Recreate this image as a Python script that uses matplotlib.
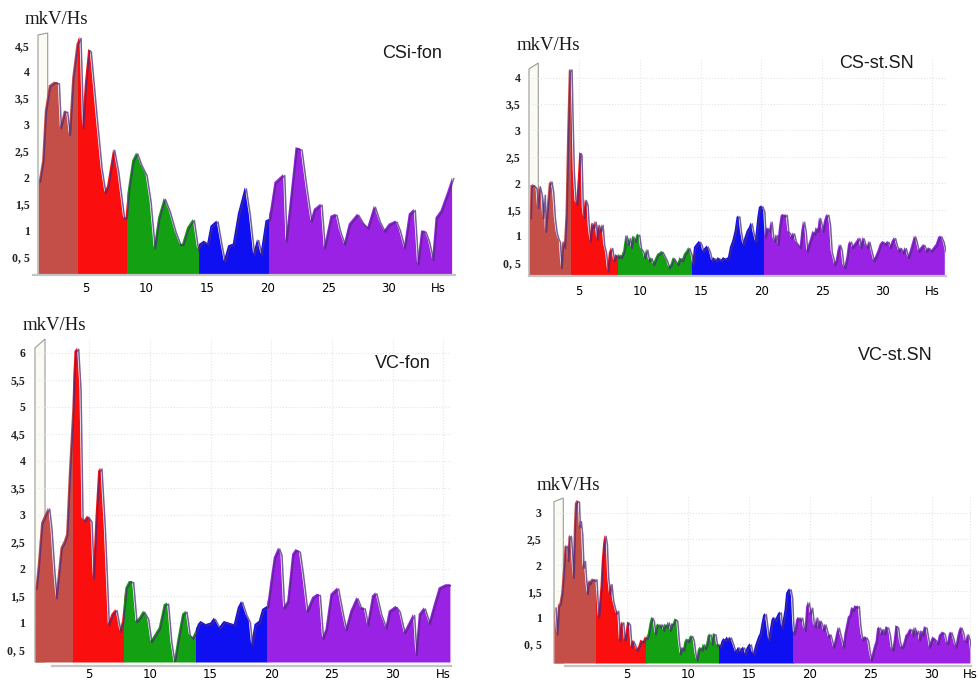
import numpy as np
import matplotlib
matplotlib.use("Agg")
import matplotlib.pyplot as plt
from matplotlib.patches import Rectangle, Polygon
from matplotlib.transforms import ScaledTranslation

# ---------------- data (Hz, mkV/Hs) ----------------
cs_fon_hz = [1.07, 1.34, 1.56, 1.89, 2.3, 2.63, 2.8, 3.13, 3.32, 3.54, 3.82, 4.17, 4.42, 4.64, 4.86,
             5.14, 5.27, 5.74, 6.16, 6.48, 6.7, 7.2, 7.53, 8.02, 8.22, 8.44, 8.77, 9.1, 9.45, 9.87,
             10.2, 10.55, 10.91, 11.38, 11.79, 12.26, 12.67, 12.89, 13.3, 13.77, 14.13, 14.32, 14.68,
             14.95, 15.23, 15.73, 16.06, 16.33, 16.69, 17.07, 17.49, 18.06, 18.39, 18.75, 19.08,
             19.36, 19.77, 20.04, 20.51, 21.23, 21.42, 21.78, 22.25, 22.66, 23.08, 23.48, 23.76,
             24.31, 24.58, 25.13, 25.54, 25.82, 26.23, 26.64, 27.33, 27.74, 28.16, 28.71, 29.12,
             29.53, 29.94, 30.49, 30.77, 31.18, 31.59, 32.0, 32.28, 32.61, 32.89, 33.19, 33.52,
             33.8, 34.21, 34.76, 35.17]
cs_fon_val = [1.95, 2.33, 3.27, 3.75, 3.82, 3.81, 2.96, 3.27, 3.27, 2.83, 3.9, 4.54, 4.67, 2.96, 3.78,
              4.44, 4.41, 3.21, 2.2, 1.73, 1.85, 2.55, 2.14, 1.25, 1.25, 1.82, 2.33, 2.48, 2.26, 2.07,
              1.57, 0.68, 1.25, 1.62, 1.38, 1.0, 0.75, 0.75, 1.06, 1.22, 0.65, 0.75, 0.81,
              0.75, 1.09, 1.19, 0.75, 0.43, 0.72, 0.75, 1.32, 1.82, 1.32, 0.56, 0.84,
              0.56, 1.19, 1.22, 1.92, 2.07, 0.81, 1.57, 2.58, 2.55, 1.82, 1.19, 1.41,
              1.51, 0.68, 1.28, 1.32, 1.03, 0.75, 1.13, 1.32, 1.16, 1.06, 1.47, 1.19,
              1.0, 1.13, 1.19, 1.03, 0.68, 1.32, 1.41, 0.37, 1.0, 1.0, 0.81, 0.46,
              1.25, 1.38, 1.73, 2.01]

cs_st_hz = [0.88, 0.93, 1.15, 1.35, 1.48, 1.62, 1.76, 1.9, 2.03, 2.12, 2.25, 2.44, 2.58, 2.72, 2.86,
            3.0, 3.13, 3.27, 3.41, 3.54, 3.68, 3.82, 3.96, 4.09, 4.23, 4.31,
            4.42, 4.56, 4.7, 4.84, 4.95, 5.05, 5.16, 5.27, 5.41, 5.55, 5.66, 5.8, 5.93, 6.07, 6.21,
            6.35, 6.48, 6.65, 6.79, 6.92, 7.06, 7.25, 7.39, 7.58, 7.75, 7.94, 8.13, 8.21,
            8.35, 8.57, 8.76, 8.9, 9.04, 9.18, 9.31, 9.51, 9.67, 9.81, 9.95, 10.14, 10.27, 10.47,
            10.63, 10.82, 11.02, 11.18, 11.37, 11.57, 11.73, 11.92, 12.12, 12.28, 12.47, 12.66,
            12.83, 13.02, 13.21, 13.38, 13.57, 13.76, 13.93, 14.12, 14.26,
            14.4, 14.59, 14.81, 14.95, 15.08, 15.22, 15.44, 15.63, 15.82, 15.99, 16.18, 16.37,
            16.59, 16.79, 17.01, 17.2, 17.36, 17.55, 17.75, 17.91, 18.05, 18.19, 18.38, 18.57,
            18.74, 18.93, 19.07, 19.2, 19.42, 19.62, 19.75, 19.95, 20.11, 20.22,
            20.38, 20.58, 20.71, 20.85, 20.99, 21.13, 21.26, 21.4, 21.54, 21.68, 21.81, 21.95,
            22.09, 22.23, 22.36, 22.55, 22.72, 22.91, 23.1, 23.24, 23.38, 23.52, 23.65, 23.82,
            24.01, 24.15, 24.29, 24.42, 24.56, 24.7, 24.84, 24.97, 25.11, 25.25, 25.38, 25.52,
            25.66, 25.8, 25.93, 26.07, 26.21, 26.35, 26.48, 26.62, 26.76, 26.95, 27.09, 27.25,
            27.39, 27.58, 27.77, 27.94, 28.08, 28.27, 28.46, 28.63, 28.76, 28.96, 29.15, 29.29,
            29.51, 29.7, 29.92, 30.11, 30.33, 30.52, 30.69, 30.88, 31.02, 31.21, 31.37, 31.57,
            31.76, 31.98, 32.17, 32.33, 32.53, 32.66, 32.85, 33.07, 33.29, 33.49, 33.68, 33.9,
            34.12, 34.32, 34.51, 34.68, 34.87, 35.06]
cs_st_val = [1.37, 1.97, 1.99, 1.93, 1.56, 1.97, 1.84, 1.37, 1.81, 1.11, 1.49, 2.0, 2.06, 1.87, 1.37,
             1.11, 0.99, 0.92, 0.42, 0.92, 0.8, 1.43, 3.01, 4.15, 4.18, 3.32,
             2.25, 1.68, 1.62, 2.12, 2.6, 2.57, 1.56, 1.37, 1.71, 1.62, 1.18, 0.92, 1.27, 1.18, 1.3,
             0.96, 1.24, 1.11, 1.24, 0.86, 0.73, 0.36, 0.7, 0.8, 0.55, 0.67, 0.61, 0.67,
             0.61, 0.73, 1.04, 0.86, 0.99, 0.8, 1.02, 0.92, 1.04, 1.05, 0.8, 0.73, 0.61, 0.77,
             0.55, 0.61, 0.48, 0.58, 0.67, 0.7, 0.73, 0.64, 0.55, 0.42, 0.48, 0.61,
             0.55, 0.48, 0.61, 0.55, 0.67, 0.73, 0.8, 0.67, 0.48,
             0.8, 0.86, 0.92, 0.86, 0.73, 0.77, 0.83, 0.73, 0.55, 0.61, 0.55, 0.61,
             0.55, 0.61, 0.58, 0.61, 0.8, 0.92, 1.11, 1.37, 1.4, 1.11, 0.86, 0.99,
             1.11, 1.18, 1.27, 1.11, 0.92, 1.37, 1.56, 1.59, 1.49, 0.99,
             1.18, 1.11, 1.3, 0.99, 0.92, 1.05, 0.86, 1.18, 1.4, 1.43, 1.4, 1.43,
             1.11, 1.08, 0.99, 1.08, 0.92, 0.86, 0.8, 1.11, 1.3, 1.11, 0.73, 0.86,
             0.99, 1.11, 1.05, 1.18, 1.11, 1.37, 1.24, 1.11, 1.3, 1.4, 1.43, 1.24,
             0.73, 0.61, 0.48, 0.55, 0.73, 0.86, 0.77, 0.48, 0.42, 0.61, 0.86, 0.92,
             0.8, 0.86, 0.92, 0.99, 0.8, 0.99, 0.86, 0.8, 0.92, 0.73, 0.55, 0.61,
             0.73, 0.86, 0.92, 0.86, 0.92, 0.8, 0.92, 0.99, 0.86, 0.73, 0.8, 0.7,
             0.8, 0.61, 0.73, 0.86, 1.02, 0.92, 0.73, 0.8, 0.86, 0.73, 0.8, 0.73,
             0.8, 0.86, 0.99, 1.02, 0.92, 0.73]

vc_fon_hz = [0.53, 0.72, 0.99, 1.3, 1.57, 1.76, 1.98, 2.17, 2.37, 2.59, 2.86, 3.05, 3.27, 3.55, 3.74,
             3.96, 4.15, 4.32, 4.51, 4.78, 5.06, 5.25, 5.47, 5.69, 5.88, 6.16, 6.49, 6.79, 7.12,
             7.45, 7.67, 7.94, 8.22, 8.49, 8.77, 9.04, 9.4, 9.73, 10.0, 10.28, 10.69, 11.1, 11.37,
             11.64, 11.92, 12.2, 12.61, 12.89, 13.16, 13.44, 13.71, 13.91, 14.12, 14.53, 14.95,
             15.22, 15.64, 16.05, 16.46, 16.87, 17.2, 17.48, 17.83, 18.11, 18.3, 18.58, 18.93,
             19.21, 19.62, 19.89, 20.17, 20.53, 20.72, 20.94, 21.27, 21.68, 21.95, 22.23, 22.5,
             22.86, 23.33, 23.69, 23.88, 24.15, 24.43, 24.84, 25.39, 25.8, 26.07, 26.48, 26.98,
             27.31, 27.58, 27.86, 28.27, 28.54, 28.96, 29.37, 29.65, 30.2, 30.47, 30.88, 31.29,
             31.65, 31.84, 32.12, 32.53, 32.94, 33.36, 33.77, 34.32, 34.73]
vc_fon_val = [1.66, 2.09, 2.86, 3.02, 3.14, 2.77, 2.03, 1.48, 1.91, 2.4, 2.52, 2.65, 3.76, 4.93, 6.04,
              6.1, 5.36, 2.96, 2.9, 2.99, 2.9, 1.85, 2.96, 3.82, 3.88, 2.77, 0.98, 1.17, 1.26,
              0.86, 1.04, 1.66, 1.78, 1.78, 1.04, 1.1, 1.23, 1.1, 0.67, 0.77, 0.92, 1.35, 1.38,
              0.67, 0.27, 0.67, 1.17, 1.23, 0.8, 0.73, 0.86, 0.98, 1.04, 0.98, 1.01,
              1.1, 0.92, 1.04, 1.01, 0.98, 1.29, 1.41, 1.17, 1.04, 0.61, 0.98, 1.04,
              1.26, 1.32, 1.78, 2.22, 2.4, 2.28, 1.29, 1.41, 2.28, 2.37, 2.34, 1.91,
              1.23, 1.48, 1.54, 1.54, 0.73, 0.89, 1.54, 1.66, 1.17, 0.89, 1.23, 1.48,
              1.29, 1.29, 0.98, 1.51, 1.57, 1.17, 0.92, 1.23, 1.32, 1.23, 0.83, 1.01,
              1.17, 0.43, 1.17, 1.29, 1.01, 1.35, 1.66, 1.72, 1.72]

vc_st_hz = [-0.96, -0.82, -0.68, -0.55, -0.41, -0.27, -0.14, 0.0, 0.08, 0.19, 0.3, 0.41, 0.52, 0.63,
            0.71, 0.85, 0.96, 1.04, 1.12, 1.23, 1.34, 1.45, 1.56, 1.67, 1.78, 1.89, 2.0, 2.13,
            2.27, 2.4, 2.49,
            2.6, 2.7, 2.81, 2.92, 3.03, 3.14, 3.25, 3.36, 3.5, 3.63, 3.77, 3.91, 4.04, 4.18, 4.32,
            4.45, 4.59, 4.73, 4.86, 5.0, 5.14, 5.27, 5.41, 5.55, 5.74, 5.9, 6.09, 6.28, 6.45, 6.56,
            6.69, 6.83, 6.97, 7.1, 7.24, 7.38, 7.51, 7.65, 7.79, 7.92, 8.06, 8.2, 8.33, 8.47, 8.61,
            8.74, 8.88, 9.02, 9.15, 9.29, 9.43, 9.56, 9.7, 9.84, 9.97, 10.11, 10.25, 10.38, 10.52,
            10.66, 10.79, 10.93, 11.07, 11.2, 11.34, 11.48, 11.61, 11.75, 11.89, 12.02, 12.16,
            12.3, 12.43, 12.6,
            12.73, 12.87, 13.01, 13.14, 13.28, 13.42, 13.55, 13.69, 13.83, 13.96, 14.1, 14.23,
            14.37, 14.51, 14.64, 14.78, 14.92, 15.05, 15.19, 15.33, 15.46, 15.6, 15.74, 15.87,
            16.01, 16.15, 16.28, 16.42, 16.56, 16.69, 16.83, 16.97, 17.1, 17.24, 17.38, 17.51,
            17.62, 17.76, 17.9, 18.03, 18.17, 18.31, 18.44, 18.52, 18.6,
            18.72, 18.85, 18.99, 19.13, 19.26, 19.4, 19.54, 19.67, 19.81, 19.95, 20.08, 20.22,
            20.36, 20.49, 20.63, 20.77, 20.9, 21.04, 21.17, 21.31, 21.45, 21.58, 21.72, 21.86,
            21.99, 22.13, 22.27, 22.4, 22.54, 22.68, 22.81, 22.95, 23.09, 23.22, 23.36, 23.5,
            23.63, 23.77, 23.91, 24.02, 24.13, 24.26, 24.4, 24.54, 24.67, 24.81, 24.95, 25.08,
            25.22, 25.36, 25.49, 25.63, 25.77, 25.9, 26.04, 26.17, 26.31, 26.45, 26.58, 26.72,
            26.86, 26.99, 27.13, 27.27, 27.4, 27.54, 27.68, 27.81, 27.95, 28.09, 28.22, 28.36,
            28.5, 28.63, 28.77, 28.91, 29.04, 29.18, 29.32, 29.45, 29.59, 29.73, 29.86, 30.0,
            30.14, 30.27, 30.41, 30.55, 30.68, 30.82, 30.96, 31.09, 31.23, 31.37, 31.5, 31.64,
            31.78, 31.91, 32.05, 32.19, 32.32, 32.46, 32.6, 32.74, 32.87, 33.01, 33.14]
vc_st_val = [1.22, 0.71, 1.25, 1.29, 1.48, 1.92, 2.37, 2.4, 2.11, 2.56, 2.59, 2.24, 1.79, 2.75,
             3.19, 3.25, 3.24, 2.75, 2.87, 2.62, 1.98, 2.11, 1.73, 1.48, 1.73, 1.67, 1.73, 1.76,
             1.73, 1.76, 1.35,
             1.03, 1.29, 1.6, 2.11, 2.43, 2.59, 2.43, 1.79, 1.48, 1.67, 1.35, 1.22, 1.1, 1.16, 0.59,
             0.9, 0.94, 0.59, 0.71, 0.94, 0.9, 0.46, 0.59, 0.52, 0.4, 0.46, 0.59, 0.56, 0.65, 0.62,
             0.71, 0.9, 1.03, 0.97, 0.71, 0.87, 0.9, 0.84, 0.9, 0.78, 0.9, 0.84, 0.94, 0.78, 0.9,
             0.9, 1.0, 0.97, 0.59, 0.33, 0.46, 0.4, 0.56, 0.62, 0.56, 0.65, 0.68, 0.59, 0.33,
             0.21, 0.4, 0.46, 0.4, 0.52, 0.43, 0.52, 0.68, 0.71, 0.52, 0.71, 0.71,
             0.49, 0.52, 0.46,
             0.56, 0.62, 0.59, 0.65, 0.59, 0.65, 0.56, 0.46, 0.37, 0.4, 0.46, 0.37,
             0.43, 0.46, 0.33, 0.43, 0.49, 0.52, 0.37, 0.33, 0.46, 0.56, 0.65, 0.71,
             0.9, 1.06, 1.1, 0.84, 0.59, 0.78, 0.97, 1.03, 0.97, 1.03, 1.1, 1.13,
             0.84, 0.97, 1.16, 1.48, 1.54, 1.57, 1.41, 0.97, 0.71,
             0.78, 0.97, 1.03, 0.97, 1.03, 0.84, 0.78, 1.22, 1.32, 1.1, 1.22, 0.9,
             0.84, 1.03, 0.84, 0.97, 0.9, 0.78, 0.9, 0.78, 0.65, 0.71, 0.59, 0.46,
             0.56, 0.71, 0.84, 0.71, 0.59, 0.46, 0.71, 0.87, 1.03, 1.06, 1.22, 1.16,
             1.25, 1.22, 1.25, 0.9, 0.71, 0.59, 0.65, 0.65, 0.59, 0.37, 0.21, 0.33,
             0.46, 0.56, 0.81, 0.84, 0.71, 0.81, 0.71, 0.84, 0.84, 0.71, 0.46, 0.4,
             0.59, 0.87, 0.84, 0.59, 0.46, 0.46, 0.56, 0.68, 0.71, 0.78, 0.81, 0.68,
             0.84, 0.71, 0.78, 0.59, 0.78, 0.68, 0.84, 0.84, 0.65, 0.46, 0.56, 0.65,
             0.62, 0.59, 0.52, 0.68, 0.71, 0.75, 0.71, 0.56, 0.52, 0.71, 0.75, 0.65,
             0.52, 0.46, 0.65, 0.78, 0.84, 0.75, 0.59, 0.56, 0.71, 0.59, 0.33]

# band edges (Hz, as read against each panel's tick labels)
cs_fon_edges = [1.0, 4.3, 8.4, 14.3, 20.1, 35.3]
cs_st_edges = [0.8, 4.31, 8.21, 14.26, 20.22, 35.2]
vc_fon_edges = [0.5, 3.69, 7.89, 13.77, 19.67, 34.8]
vc_st_edges = [-1.0, 2.49, 6.56, 12.6, 18.6, 33.2]
band_colors = ['#c44e48', '#fa0e0e', '#13a013', '#0f10f2', '#9a22e4']

x_ticks = [5, 10, 15, 20, 25, 30]
x_labels = ['5', '10', '15', '20', '25', '30']
y_labels_map = {0.5: '0, 5', 1: '1', 1.5: '1,5', 2: '2', 2.5: '2,5', 3: '3',
                3.5: '3,5', 4: '4', 4.5: '4,5', 5: '5', 5.5: '5,5', 6: '6'}

titles = ['CSi-fon', 'CS-st.SN', 'VC-fon', 'VC-st.SN']
unit_label = 'mkV/Hs'

W, H = 979, 682
fig = plt.figure(figsize=(W / 100, H / 100), dpi=100)
fig.patch.set_facecolor('white')


def fx(px):
    return px / W


def fy(py):
    return 1 - py / H


def add_panel(box, xlim, ylim, hz, val, edges, ymax_tick, title, title_xy, unit_xy,
              hs_x, xlab_pad, ylab_pad, wall, grid, spine_start, spine_out):
    L, R, T, B = box
    ax = fig.add_axes([fx(L), fy(B), fx(R - L), (B - T) / H])
    ax.set_facecolor('none')
    ax.set_xlim(*xlim)
    ax.set_ylim(*ylim)
    hz = np.asarray(hz)
    val = np.asarray(val)
    for i, c in enumerate(band_colors):
        poly = ax.fill_between(hz, ylim[0], val, color=c, lw=0, zorder=2)
        rect = Rectangle((edges[i], ylim[0]), edges[i + 1] - edges[i], ylim[1] - ylim[0],
                         transform=ax.transData, visible=False)
        ax.add_patch(rect)
        poly.set_clip_path(rect)
    off = ScaledTranslation(1.5 / 72, -1.5 / 72, fig.dpi_scale_trans)
    ax.plot(hz, val, color='#4b2a7a', lw=1.1, alpha=0.75, zorder=3,
            transform=ax.transData + off)
    # ticks
    yt = [v for v in sorted(y_labels_map) if v <= ymax_tick]
    ax.set_yticks(yt)
    ax.set_yticklabels([y_labels_map[v] for v in yt])
    ax.set_xticks(x_ticks + [hs_x])
    ax.set_xticklabels(x_labels + ['Hs'])
    ax.tick_params(axis='both', length=0, labelsize=8.5)
    ax.tick_params(axis='x', pad=xlab_pad)
    ax.tick_params(axis='y', pad=ylab_pad)
    for lab in ax.get_xticklabels() + ax.get_yticklabels():
        lab.set_fontfamily('Liberation Serif')
        lab.set_fontweight('bold')
        lab.set_color('#222222')
    for s in ['top', 'right', 'left']:
        ax.spines[s].set_visible(False)
    ax.spines['bottom'].set_color('#c4c4c4')
    ax.spines['bottom'].set_linewidth(1.6)
    ax.spines['bottom'].set_position(('outward', spine_out))
    ax.spines['bottom'].set_bounds(spine_start, xlim[1])
    if grid:
        ax.grid(True, color='#e4e4e4', ls=':', lw=0.8, zorder=0)
        ax.set_axisbelow(True)
    else:
        ax.grid(False)
    # 3D side wall
    wp = Polygon([(fx(x), fy(y)) for x, y in wall], closed=True, transform=fig.transFigure,
                 facecolor='#fbfbf4', edgecolor='#9a9a9a', lw=0.8, zorder=-1)
    fig.patches.append(wp)
    fig.text(fx(title_xy[0]), fy(title_xy[1]), title, ha='center', va='center',
             fontsize=13, family='Liberation Sans', color='#1a1a1a')
    fig.text(fx(unit_xy[0]), fy(unit_xy[1]), unit_label, ha='left', va='center',
             fontsize=13.5, family='Liberation Serif', color='#1a1a1a')
    return ax


# Panel 1: CS-fon
add_panel(box=(38, 455, 30, 275), xlim=(1.04, 35.45), ylim=(0.148, 4.79),
          hz=cs_fon_hz, val=cs_fon_val, edges=cs_fon_edges, ymax_tick=4.5,
          title=titles[0], title_xy=(412, 53), unit_xy=(25, 19), hs_x=34.1,
          xlab_pad=5, ylab_pad=6, wall=[(38, 275), (38, 35), (47.7, 33), (47.7, 275)],
          grid=False, spine_start=0.6, spine_out=0)

# Panel 2: CS-st.SN
add_panel(box=(529, 946, 58, 275), xlim=(0.857, 35.2), ylim=(0.261, 4.37),
          hz=cs_st_hz, val=cs_st_val, edges=cs_st_edges, ymax_tick=4.0,
          title=titles[1], title_xy=(877, 63), unit_xy=(517, 45), hs_x=34.04,
          xlab_pad=6, ylab_pad=6, wall=[(529, 275), (529, 69), (538.3, 63), (538.3, 275)],
          grid=True, spine_start=0.857, spine_out=1)

# Panel 3: VC-fon
add_panel(box=(35, 451, 338, 662), xlim=(0.53, 34.82), ylim=(0.27, 6.27),
          hz=vc_fon_hz, val=vc_fon_val, edges=vc_fon_edges, ymax_tick=6.0,
          title=titles[2], title_xy=(403, 363), unit_xy=(23, 325), hs_x=34.18,
          xlab_pad=1, ylab_pad=7, wall=[(35, 662), (35, 348), (45, 339), (45, 662)],
          grid=True, spine_start=1.9, spine_out=3)

# Panel 4: VC-st.SN
add_panel(box=(554, 971, 497, 663), xlim=(-0.956, 33.23), ylim=(0.136, 3.30),
          hz=vc_st_hz, val=vc_st_val, edges=vc_st_edges, ymax_tick=3.0,
          title=titles[3], title_xy=(895, 355), unit_xy=(537, 485), hs_x=33.14,
          xlab_pad=1.5, ylab_pad=9, wall=[(554, 663), (554, 501.7), (563.3, 498), (563.3, 663)],
          grid=True, spine_start=-0.05, spine_out=2)

fig.savefig('out.png', dpi=100, facecolor='white')
